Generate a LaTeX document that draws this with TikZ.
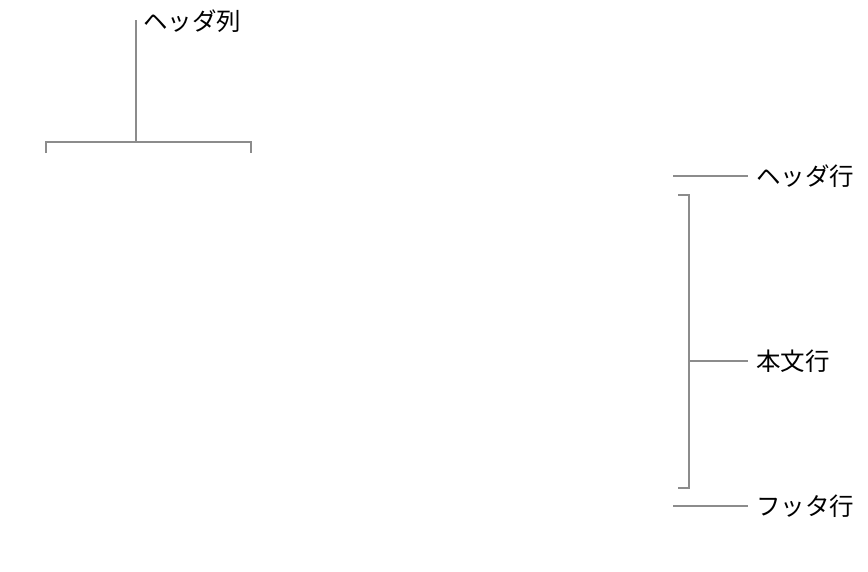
\documentclass[tikz,border=0pt]{standalone}
\usepackage{fontspec}
\newfontfamily\jpfont{Noto Sans CJK JP}
\usetikzlibrary{positioning}

\begin{document}
\begin{tikzpicture}[x=1pt,y=-1pt,
  guide/.style={draw=gray!90, line width=2.4pt},
  lbl/.style={font=\jpfont\fontsize{24.5}{24.5}\selectfont, anchor=west, inner sep=0pt}]
\useasboundingbox (0,0) rectangle (868,571);

% header column
\node[lbl] (hcol) at (143,21) {ヘッダ列};
\coordinate (hcoltop) at (136,20);
\coordinate (hcolmid) at (136,142);
\draw[guide] (hcoltop) -- (hcolmid);
\draw[guide] (46,153) -- (46,142) -- (251,142) -- (251,153);

% header row
\node[lbl] (hrow) at (756,176) {ヘッダ行};
\coordinate (hrowl) at (673,176);
\draw[guide] (hrowl) -- ([xshift=-8pt]hrow.west);

% body rows
\node[lbl] (brow) at (756,361) {本文行};
\coordinate (bmid) at (689,361);
\draw[guide] (678,195) -- (689,195) -- (689,488) -- (678,488);
\draw[guide] (bmid) -- ([xshift=-8pt]brow.west);

% footer row
\node[lbl] (frow) at (756,506) {フッタ行};
\coordinate (frowl) at (673,506);
\draw[guide] (frowl) -- ([xshift=-8pt]frow.west);
\end{tikzpicture}
\end{document}
